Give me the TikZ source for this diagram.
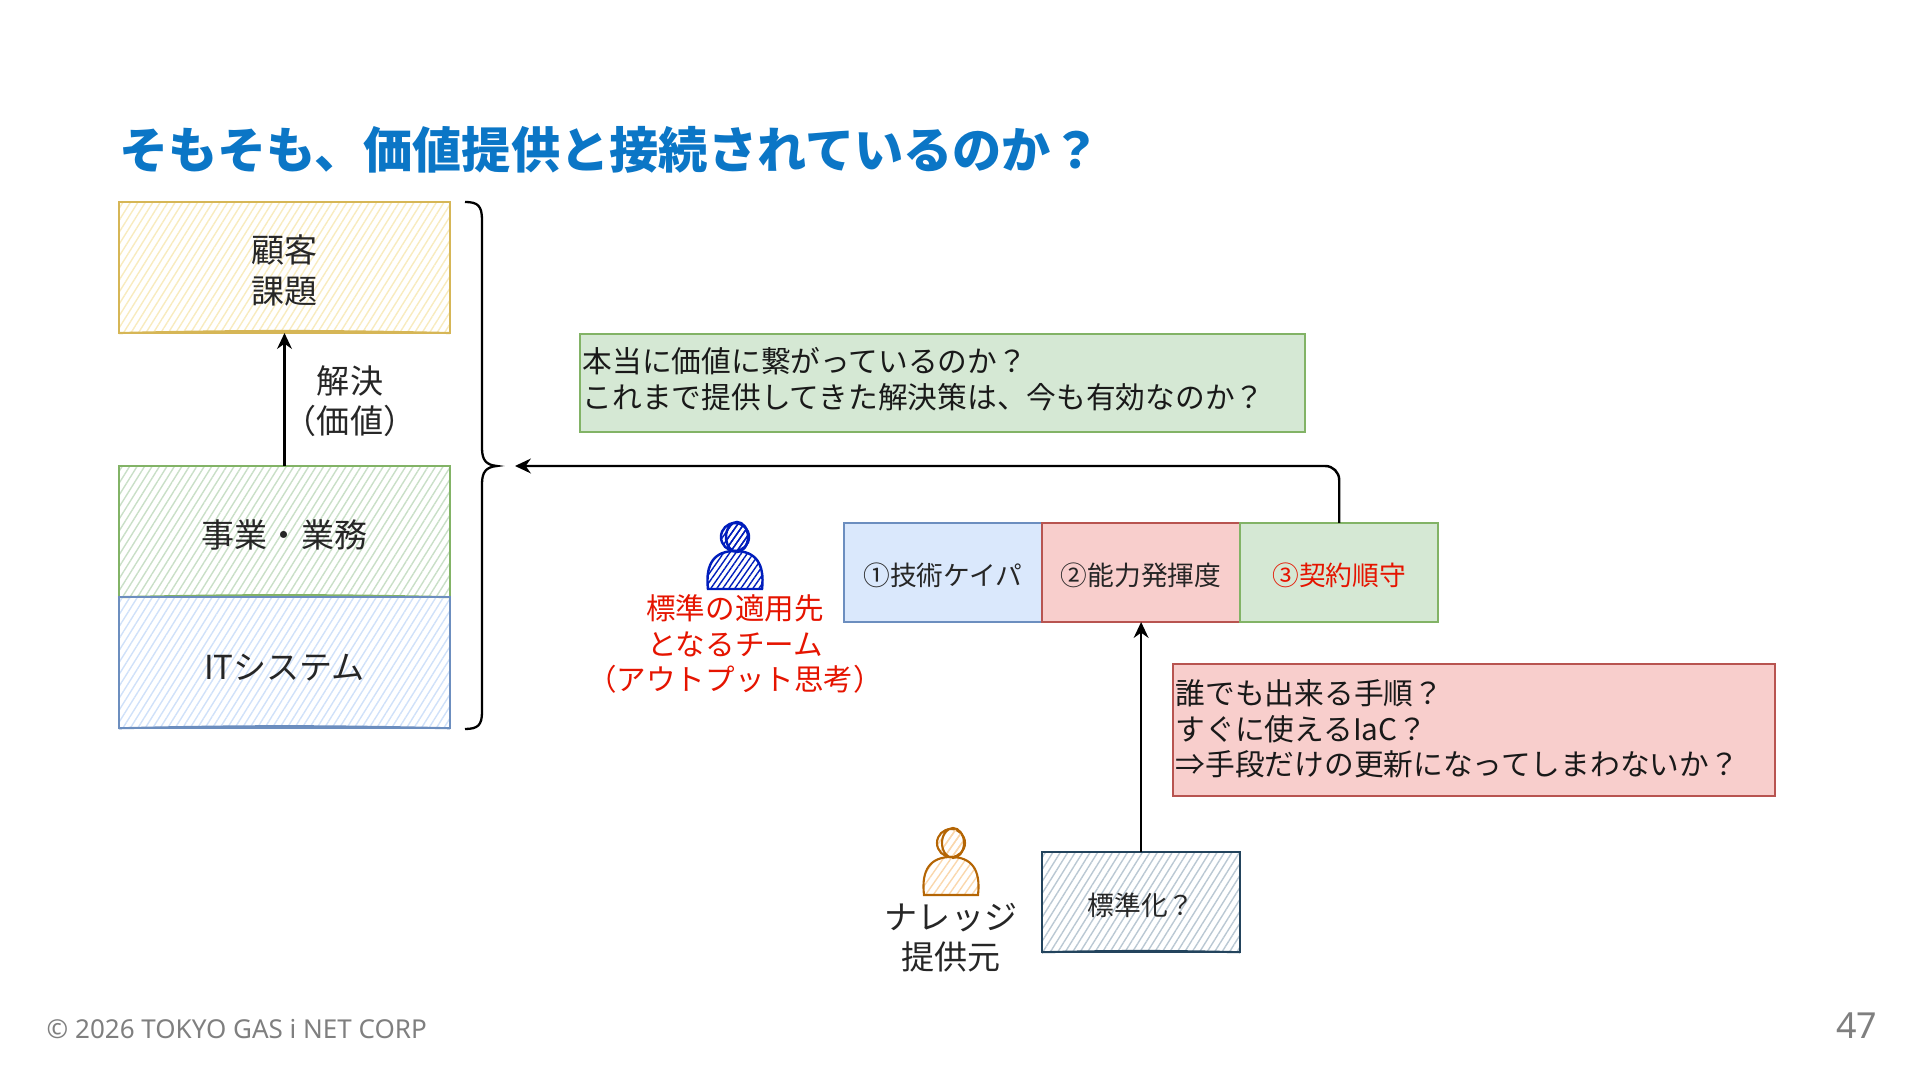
\documentclass[tikz,border=0pt]{standalone}
\usepackage{xcolor}
\usepackage{fontspec}
\setmainfont{Noto Sans CJK JP}
\newfontfamily\footfont{Noto Sans}
\usetikzlibrary{arrows.meta, positioning, patterns.meta}
\definecolor{titleblue}{HTML}{0B76C6}
\definecolor{alertred}{HTML}{E51400}
\definecolor{footgray}{HTML}{7F7F7F}
\definecolor{custline}{HTML}{D6B656}
\definecolor{custhatch}{HTML}{F8EBBE}
\definecolor{greenline}{HTML}{82B366}
\definecolor{greenfill}{HTML}{D5E8D4}
\definecolor{greenhatch}{HTML}{C9DFC7}
\definecolor{blueline}{HTML}{6C8EBF}
\definecolor{bluefill}{HTML}{DAE8FC}
\definecolor{bluehatch}{HTML}{D0E1F9}
\definecolor{redline}{HTML}{B85450}
\definecolor{redfill}{HTML}{F8CECC}
\definecolor{darkline}{HTML}{23445D}
\definecolor{darkhatch}{HTML}{BAC8D3}
\definecolor{teamblue}{HTML}{001DBC}
\definecolor{knoworange}{HTML}{B46504}
\definecolor{knowhatch}{HTML}{FAD7AC}
\begin{document}
\begin{tikzpicture}[
      x=0.01cm, y=-0.01cm,
      lowered/.style={execute at begin node={\rule{0pt}{1.05em}}},
      sketch/.style={rectangle, lowered, outer sep=0pt, line width=0.55pt, minimum width=3.31cm, minimum height=1.31cm, inner sep=0pt, align=center, text=black!85, font=\fontsize{9.4}{11.3}\selectfont,
        pattern={Lines[angle=58, distance=1.8pt, line width=0.4pt]}},
      rough/.style={draw=#1, append after command={(\tikzlastnode.south west) edge[draw=#1, bend left=1.2, line width=0.6pt] (\tikzlastnode.south east)}},
      custbox/.style={sketch, rough=custline, pattern color=custhatch},
      bizbox/.style={sketch, rough=greenline, pattern color=greenhatch},
      itbox/.style={sketch, rough=blueline, pattern color=bluehatch},
      qbox/.style={sketch, rough=darkline, minimum width=1.98cm, minimum height=1cm, pattern color=darkhatch, font=\fontsize{7.6}{9}\selectfont},
      cell/.style={rectangle, lowered, outer sep=0pt, line width=0.55pt, minimum width=1.98cm, minimum height=0.99cm, inner sep=0pt, align=center, text=black!85, font=\fontsize{7.6}{9}\selectfont},
      note/.style={rectangle, line width=0.5pt, inner xsep=0.03cm, inner ysep=0pt, align=left, text=black!90, font=\fontsize{8.45}{10.2}\selectfont},
      bluecell/.style={cell, draw=blueline, fill=bluefill},
      redcell/.style={cell, draw=redline, fill=redfill},
      greencell/.style={cell, draw=greenline, fill=greenfill},
      label_text/.style={align=center, inner sep=0pt, font=\fontsize{9.4}{11.3}\selectfont, text=black!85},
      team_text/.style={align=center, inner sep=0pt, font=\fontsize{8.4}{10.2}\selectfont, text=alertred},
      arrow/.style={-{Stealth[length=4.5pt, width=4.2pt]}, line width=0.7pt, draw=black},
      person/.pic={
        \path[pic actions] (0,0) ellipse[x radius=14, y radius=14];
        \path[pic actions] (2,0) ellipse[x radius=11, y radius=15];
        \path[pic actions] (-27,52) .. controls (-30,26) and (-20,14) .. (0,14) .. controls (20,14) and (30,26) .. (27,52) -- cycle;
      }
  ]
  \useasboundingbox (0,0) rectangle (1920,1080);

  \node[anchor=west, inner sep=0pt, text=titleblue, font=\fontsize{14}{16}\selectfont\bfseries] (title) at (119,150) {そもそも、価値提供と接続されているのか？};

  % left stack
  \node[custbox] (customer) at (284.5,267.5) {顧客\\[0.4pt]課題\par\vspace{-1.6pt}};
  \node[bizbox] (business) [below=1.33cm of customer] {事業・業務};
  \node[itbox] (system) [below=0cm of business] {ITシステム};
  \node[label_text] (solve) at (350,401) {解決\\（価値）};

  \coordinate (bracetip) at (497,466);
  \draw[line width=0.65pt] (465,202) .. controls (478,202) and (482,206) .. (482,220) -- (482,448) .. controls (482,460) and (486,465) .. (bracetip) .. controls (486,467) and (482,472) .. (482,484) -- (482,712) .. controls (482,725) and (478,729) .. (465,729);

  % three cells
  \node[bluecell] (skill) at (943,572.5) {①技術ケイパ};
  \node[redcell] (ability) [right=0cm of skill] {②能力発揮度};
  \node[greencell, text=alertred] (contract) [right=0cm of ability] {③契約順守};

  \node[note, draw=greenline, fill=greenfill, minimum height=0.98cm, text width=7.19cm] (valuenote) at (942.5,383) {本当に価値に繋がっているのか？\\これまで提供してきた解決策は、今も有効なのか？\par\vspace{2pt}};
  \node[note, draw=redline, fill=redfill, minimum height=1.32cm, text width=5.96cm] (handnote) at (1474,730) {誰でも出来る手順？\\すぐに使えるIaC？\\⇒手段だけの更新になってしまわないか？\par\vspace{0.7pt}};

  \node[qbox] (standard) [below=2.3cm of ability] {標準化？};

  % people
  \pic[draw=teamblue, line width=0.7pt, pattern={Lines[angle=55, distance=1.4pt, line width=0.4pt]}, pattern color=teamblue] (teamicon) at (735,537) {person};
  \pic[draw=knoworange, line width=0.6pt, pattern={Lines[angle=55, distance=1.8pt, line width=0.4pt]}, pattern color=knowhatch] (knowicon) at (951,843) {person};
  \node[team_text] (teamlabel) at (735,644) {標準の適用先\\となるチーム\\（アウトプット思考）};
  \node[label_text] (knowlabel) at (951,938) {ナレッジ\\提供元};

  % connectors
  \coordinate (backtip) at (515,466);
  \draw[arrow] (business.north) -- (customer.south);
  \draw[arrow, rounded corners=4pt] (contract.north) |- (backtip);
  \draw[arrow] (standard.north) -- (ability.south);

  \node[anchor=west, inner sep=0pt, text=footgray, font=\footfont\fontsize{7.4}{9}\selectfont] (copyright) at (46,1029) {© 2026 TOKYO GAS i NET CORP};
  \node[anchor=east, inner sep=0pt, text=footgray, font=\footfont\fontsize{10.2}{12}\selectfont] (pagenum) at (1878,1026) {47};
\end{tikzpicture}
\end{document}
